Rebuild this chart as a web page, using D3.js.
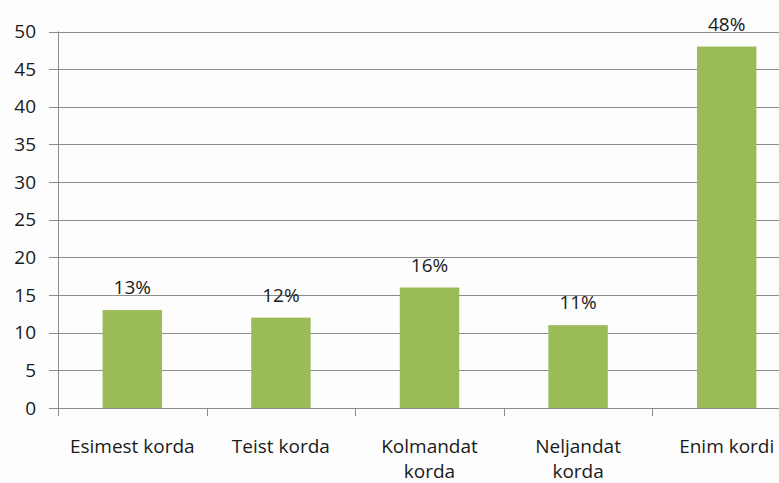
<!DOCTYPE html>
<html>
<head>
<meta charset="utf-8">
<script src="https://cdn.jsdelivr.net/npm/d3@7"></script>
<style>
  body { margin: 0; background: #fdfdfd; }
  svg { display: block; font-family: "Open Sans", Lato, sans-serif; }
</style>
</head>
<body>
<div id="chart"></div>
<script>
// data
var categories = [["Esimest korda"], ["Teist korda"], ["Kolmandat", "korda"], ["Neljandat", "korda"], ["Enim kordi"]];
var values = [13, 12, 16, 11, 48];
var valueLabels = ["13%", "12%", "16%", "11%", "48%"];
var yTicks = [0, 5, 10, 15, 20, 25, 30, 35, 40, 45, 50];

var width = 779, height = 483;
var plotLeft = 58, plotRight = 801, plotTop = 31.5, plotBottom = 408;
var fontSize = 19;

var svg = d3.select("#chart").append("svg")
    .attr("width", width)
    .attr("height", height);

var x = d3.scaleBand()
    .domain(d3.range(values.length))
    .range([plotLeft, plotRight]);

var y = d3.scaleLinear()
    .domain([0, 50])
    .range([plotBottom, plotTop]);

// gridlines
svg.append("g")
    .selectAll("line")
    .data(yTicks)
    .enter().append("line")
    .attr("x1", plotLeft - 9)
    .attr("x2", plotRight)
    .attr("y1", function(d) { return Math.round(y(d)) + 0.5; })
    .attr("y2", function(d) { return Math.round(y(d)) + 0.5; })
    .attr("stroke", "#8c8c8c")
    .attr("stroke-width", 1);

// y tick labels
svg.append("g")
    .selectAll("text")
    .data(yTicks)
    .enter().append("text")
    .attr("x", 36)
    .attr("y", function(d) { return y(d); })
    .attr("dy", "0.35em")
    .attr("text-anchor", "end")
    .attr("font-size", fontSize)
    .attr("fill", "#1a1a1a")
    .text(function(d) { return d; });

// y axis line
svg.append("line")
    .attr("x1", plotLeft + 0.5).attr("x2", plotLeft + 0.5)
    .attr("y1", plotTop).attr("y2", plotBottom + 8)
    .attr("stroke", "#8c8c8c");

// x category ticks
svg.append("g")
    .selectAll("line")
    .data(d3.range(1, values.length + 1))
    .enter().append("line")
    .attr("x1", function(i) { return Math.round(x(0) + i * x.step()) + 0.5; })
    .attr("x2", function(i) { return Math.round(x(0) + i * x.step()) + 0.5; })
    .attr("y1", plotBottom)
    .attr("y2", plotBottom + 8)
    .attr("stroke", "#8c8c8c");

// bars
var barW = x.bandwidth() * 0.4;
svg.append("g")
    .selectAll("rect")
    .data(values)
    .enter().append("rect")
    .attr("x", function(d, i) { return x(i) + (x.bandwidth() - barW) / 2; })
    .attr("y", function(d) { return y(d); })
    .attr("width", barW)
    .attr("height", function(d) { return y(0) - y(d); })
    .attr("fill", "#9bbb59");

// value labels
svg.append("g")
    .selectAll("text")
    .data(values)
    .enter().append("text")
    .attr("x", function(d, i) { return x(i) + x.bandwidth() / 2; })
    .attr("y", function(d) { return y(d) - 16; })
    .attr("text-anchor", "middle")
    .attr("font-size", fontSize)
    .attr("fill", "#1a1a1a")
    .text(function(d, i) { return valueLabels[i]; });

// category labels
var cat = svg.append("g")
    .selectAll("text")
    .data(categories)
    .enter().append("text")
    .attr("x", function(d, i) { return x(i) + x.bandwidth() / 2; })
    .attr("y", 453)
    .attr("text-anchor", "middle")
    .attr("font-size", fontSize)
    .attr("fill", "#1a1a1a");

cat.selectAll("tspan")
    .data(function(d) { return d; })
    .enter().append("tspan")
    .attr("x", function() { return d3.select(this.parentNode).attr("x"); })
    .attr("dy", function(d, j) { return j == 0 ? 0 : 25; })
    .text(function(d) { return d; });
</script>
</body>
</html>
